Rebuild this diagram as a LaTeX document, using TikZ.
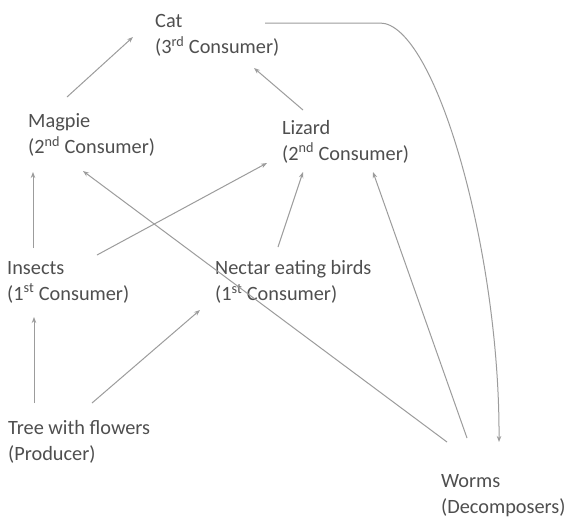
\documentclass[tikz,border=0pt]{standalone}
\usepackage{fontspec}
\setmainfont{Carlito}
\usetikzlibrary{arrows.meta,calc}
\definecolor{txt}{HTML}{4F4F4F}
\definecolor{ln}{HTML}{9C9C9C}
\tikzset{
  lbl/.style={anchor=west, align=left, inner sep=0pt, text=txt, font=\fontsize{20.3}{26}\selectfont},
  conn/.style={draw=ln, line width=1pt, -{Stealth[length=6pt,width=4.5pt]}}
}
\begin{document}
\begin{tikzpicture}[x=1pt,y=-1pt]
\useasboundingbox[fill=white] (0,0) rectangle (569,517);
\node[lbl] (cat) at (155,35.5) {Cat\\(3\textsuperscript{rd} Consumer)};
\node[lbl] (mag) at (28,135) {Magpie\\(2\textsuperscript{nd} Consumer)};
\node[lbl] (liz) at (282,141.5) {Lizard\\(2\textsuperscript{nd} Consumer)};
\node[lbl] (ins) at (7,282) {Insects\\(1\textsuperscript{st} Consumer)};
\node[lbl] (nec) at (215,282) {Nectar eating birds\\(1\textsuperscript{st} Consumer)};
\node[lbl] (tree) at (8,441.5) {Tree with flowers\\(Producer)};
\node[lbl] (worm) at (441,495.5) {Worms\\(Decomposers)};

\draw[conn] ($(mag.west)+(39,-38)$) -- ($(cat.west)+(-22,1.5)$);
\draw[conn] ($(liz.west)+(21,-31.5)$) -- ($(cat.west)+(99,32.5)$);
\draw[conn] ($(ins.west)+(26,-34)$) -- ($(mag.west)+(5,37)$);
\draw[conn] ($(ins.west)+(90,-27)$) -- ($(liz.west)+(-15,21.5)$);
\draw[conn] ($(nec.west)+(63,-35)$) -- ($(liz.west)+(21,30.5)$);
\draw[conn] ($(worm.west)+(6,-53.5)$) -- ($(mag.west)+(55,36)$);
\draw[conn] ($(worm.west)+(26,-57.5)$) -- ($(liz.west)+(91,30.5)$);
\draw[conn] ($(tree.west)+(26,-38.5)$) -- ($(ins.west)+(27,35)$);
\draw[conn] ($(tree.west)+(84,-38.5)$) -- ($(nec.west)+(-15,28)$);
\draw[conn] ($(cat.west)+(110,-12.5)$) -- (380,23) .. controls (435,23) and (500,250) .. ($(worm.west)+(58,-53.5)$);
\end{tikzpicture}
\end{document}
